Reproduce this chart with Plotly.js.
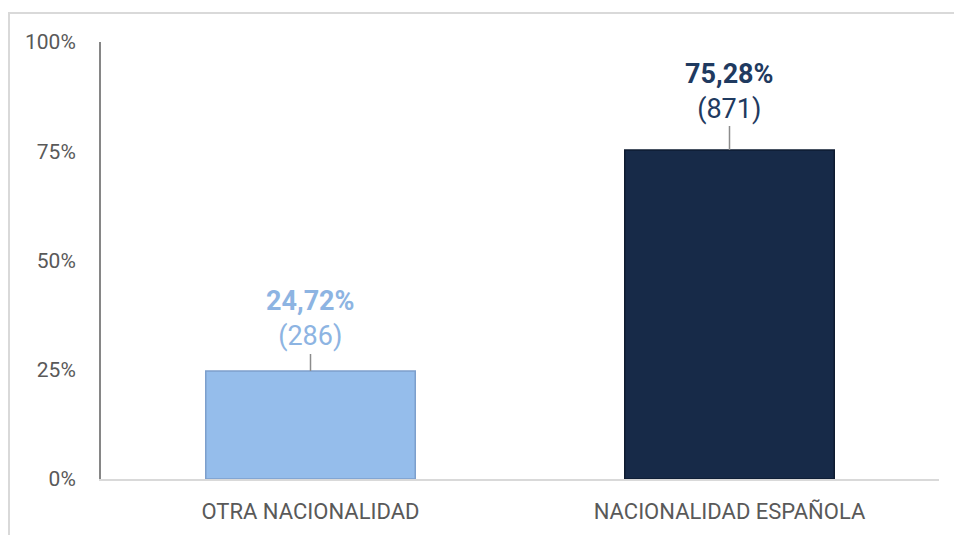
<!DOCTYPE html>
<html>
<head>
<meta charset="utf-8">
<script src="https://cdn.plot.ly/plotly-3.0.1.min.js"></script>
<style>
html,body{margin:0;padding:0;background:#fff;}
#frame{position:absolute;left:8px;top:12px;width:960px;height:540px;border-left:2px solid #d9d9d9;border-top:2px solid #d9d9d9;}
#chart{position:absolute;left:0;top:0;width:954px;height:535px;}
</style>
</head>
<body>
<div id="frame"></div>
<div id="chart"></div>
<script>
const categories = ["OTRA NACIONALIDAD", "NACIONALIDAD ESPAÑOLA"];
const percentages = [24.72, 75.28];
const counts = [286, 871];
const percentLabels = ["24,72%", "75,28%"];
const barColors = ["#95bdeb", "#172a48"];
const barEdgeColors = ["#7d9fcc", "#0e1b30"];
const labelColors = ["#8db4e2", "#1f3a60"];
const yTickValues = [0, 25, 50, 75, 100];
const yTickLabels = ["0%", "25%", "50%", "75%", "100%"];

const FONT = "Roboto, 'Liberation Sans', sans-serif";
const LABEL_OFFSETS = [-52, -59];

const trace = {
  type: "bar",
  x: categories,
  y: percentages,
  marker: {color: barColors, line: {color: barEdgeColors, width: 1.5}},
  hoverinfo: "skip"
};

const annotations = categories.map((c, i) => ({
  x: c, y: percentages[i], xref: "x", yref: "y",
  text: "<b>" + percentLabels[i] + "</b><br>(" + counts[i] + ")",
  showarrow: true, arrowhead: 0, arrowwidth: 1.5, arrowcolor: "#8c8c8c",
  ax: 0, ay: LABEL_OFFSETS[i], standoff: 0,
  font: {family: FONT, size: 27, color: labelColors[i]},
  align: "center"
}));

const layout = {
  width: 954, height: 535,
  margin: {l: 101, r: 15, t: 42, b: 56},
  paper_bgcolor: "rgba(0,0,0,0)",
  plot_bgcolor: "rgba(0,0,0,0)",
  showlegend: false,
  bargap: 0.5,
  xaxis: {
    range: [-0.5, 1.5],
    showline: true, linecolor: "#d9d9d9", linewidth: 2,
    showgrid: false, zeroline: false,
    ticks: "outside", ticklen: 12, tickcolor: "rgba(0,0,0,0)",
    tickfont: {family: FONT, size: 22, color: "#595959"}
  },
  yaxis: {
    range: [0, 100],
    tickvals: yTickValues, ticktext: yTickLabels,
    showline: true, linecolor: "#868686", linewidth: 2,
    showgrid: false, zeroline: false,
    ticks: "outside", ticklen: 19, tickcolor: "rgba(0,0,0,0)",
    tickfont: {family: FONT, size: 21, color: "#595959"}
  },
  annotations: annotations
};

Plotly.newPlot("chart", [trace], layout, {displayModeBar: false, staticPlot: true});
</script>
</body>
</html>
